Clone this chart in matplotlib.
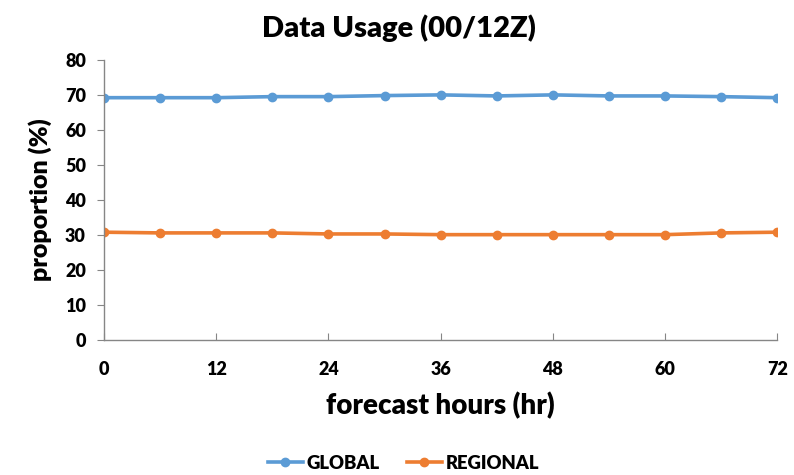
import matplotlib
matplotlib.use('Agg')
import matplotlib.pyplot as plt

# forecast hours and proportions (%)
hours = [0, 6, 12, 18, 24, 30, 36, 42, 48, 54, 60, 66, 72]
global_pct = [69.2, 69.2, 69.2, 69.5, 69.5, 69.8, 70.0, 69.7, 70.0, 69.7, 69.7, 69.5, 69.2]
regional_pct = [30.8, 30.6, 30.6, 30.6, 30.3, 30.3, 30.1, 30.1, 30.1, 30.1, 30.1, 30.6, 30.8]
x_ticks = [0, 12, 24, 36, 48, 60, 72]
y_ticks = [0, 10, 20, 30, 40, 50, 60, 70, 80]

W = 'heavy'
plt.rcParams['font.family'] = ['Lato', 'DejaVu Sans']
plt.rcParams['font.weight'] = W

fig = plt.figure(figsize=(7.94, 4.75), dpi=100)
ax = fig.add_axes([0.131, 0.284, 0.848, 0.590])

ax.plot(hours, global_pct, color='#5B9BD5', lw=2.6, marker='o', ms=6, label='GLOBAL')
ax.plot(hours, regional_pct, color='#ED7D31', lw=2.6, marker='o', ms=6, label='REGIONAL')

ax.set_xlim(0, 72)
ax.set_ylim(0, 80)
ax.set_xticks(x_ticks)
ax.set_yticks(y_ticks)

for side in ['top', 'right']:
    ax.spines[side].set_visible(False)
for side in ['left', 'bottom']:
    ax.spines[side].set_color('#868686')
    ax.spines[side].set_linewidth(1.0)

ax.tick_params(axis='x', direction='in', length=5, color='#868686', labelsize=13, pad=15)
ax.tick_params(axis='y', direction='out', length=5, color='#868686', labelsize=13, pad=8)
for lab in ax.get_xticklabels() + ax.get_yticklabels():
    lab.set_fontweight(W)

ax.set_xlabel('forecast hours (hr)', fontsize=20, fontweight=W, labelpad=10)
ax.set_ylabel('proportion (%)', fontsize=18, fontweight=W, labelpad=9)
fig.text(0.503, 0.94, 'Data Usage (00/12Z)', ha='center', va='center',
         fontsize=21, fontweight=W)

fig.legend(loc='center', bbox_to_anchor=(0.508, 0.025), ncol=2, frameon=False,
           prop={'size': 13.3, 'weight': W}, handlelength=1.9, columnspacing=1.45,
           handletextpad=0.2)

fig.savefig('out.png', dpi=100)
